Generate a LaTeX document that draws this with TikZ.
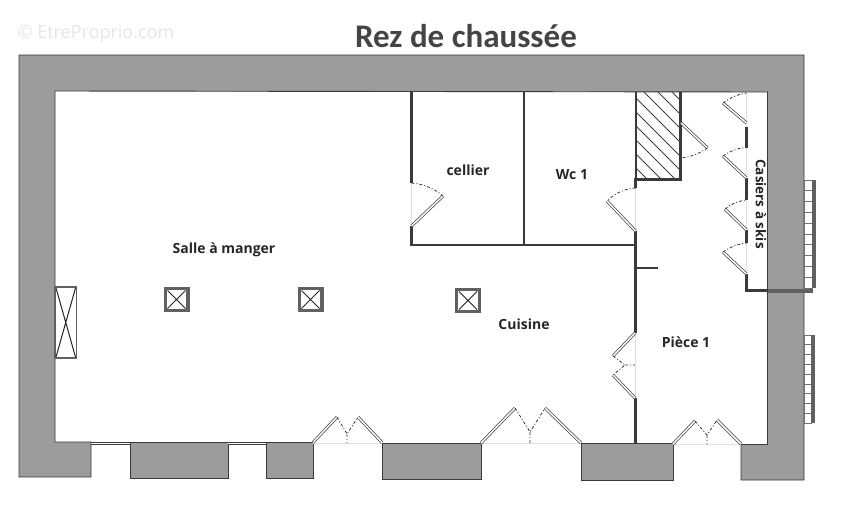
\documentclass[tikz,border=0pt]{standalone}
\usepackage{fontspec}
\setmainfont{Open Sans}
\newfontfamily\titlefont{Carlito}
\definecolor{wallgray}{HTML}{9C9C9C}
\definecolor{inkdark}{HTML}{3A3A3A}
\definecolor{titleink}{HTML}{444444}
\tikzset{
  wallfill/.style={fill=wallgray,draw=inkdark,line width=0.9pt,line join=miter},
  partition/.style={draw=inkdark,line width=2.6pt},
  leaf/.style={draw=inkdark,double=white,double distance=1.5pt,line width=0.7pt},
  swing/.style={draw=black!80,line width=0.8pt,dash pattern=on 3pt off 2pt on 1pt off 2pt},
  sill/.style={draw=black!12,line width=0.6pt},
  roomlabel/.style={font=\bfseries\fontsize{14}{16}\selectfont,text=black!85,inner sep=0pt},
  pillar/.style={draw=black!62,line width=3.4pt,fill=white},
  cross/.style={draw=black!85,line width=1pt},
  rung/.style={draw=black!55,line width=0.8pt,fill=white},
  band/.style={fill=black!62,draw=none}
}
\begin{document}
\begin{tikzpicture}[x=1pt,y=-1pt]
\useasboundingbox (0,0) rectangle (856,506);
% watermark and title
\node[inner sep=0pt,text=black!10,font=\fontsize{18}{20}\selectfont] (mark) at (96,34) {© EtreProprio.com};
\node[inner sep=0pt,text=titleink,font=\titlefont\bfseries\fontsize{33}{35}\selectfont] (title) at (466,36) {Rez de chaussée};
% outer walls
\draw[wallfill] (19,55) -- (804,55) -- (804,480) -- (741,480) -- (741,444.5) -- (767.5,444.5) -- (767.5,92) -- (55,91) -- (55,442) -- (91,442) -- (91,477) -- (19,477) -- cycle;
\draw[wallfill] (130,442) rectangle (228,478);
\draw[wallfill] (266,442.5) rectangle (313,478);
\draw[wallfill] (382,443) rectangle (481,479);
\draw[wallfill] (581,443.5) rectangle (673,480);
% sills of the openings
\foreach \a/\b/\c in {313/382/443,481/581/443.5,673/741/444}{\draw[sill] (\a,\c) -- (\b,\c);}
\draw[sill] (411.5,183) -- (411.5,226);
\draw[sill] (635.5,188) -- (635.5,231);
\draw[sill] (635,333) -- (635,398);
\draw[sill] (746.5,93) -- (746.5,274);
% bottom windows
\foreach \a/\b in {91/130,228/266}{\draw[leaf] (\a,443.5) -- (\b,443.5);}
% radiators
\foreach \i in {0,...,9}{\draw[rung] (804,180+10.8*\i) rectangle (812,180+10.8*\i+10.8);}
\fill[band] (811.5,180) rectangle (815.5,288);
\foreach \i in {0,...,8}{\draw[rung] (804,335+9.8*\i) rectangle (811.5,335+9.8*\i+9.8);}
\fill[band] (811,335) rectangle (815,423);
\fill[band] (768,288.5) rectangle (813,292.5);
% partitions
\draw[partition] (411.5,91) -- (411.5,183);
\draw[partition] (411.5,226) -- (411.5,245) -- (635.5,245);
\draw[partition] (524,91) -- (524,245);
\draw[partition] (635.5,231) -- (635.5,333);
\draw[partition] (635.5,398) -- (635.5,444);
\draw[partition] (635.5,268) -- (658,268);
\draw[partition] (635.5,178) -- (635.5,188);
% chimney block
\begin{scope}
\clip (636,92) rectangle (681,179);
\foreach \k in {-90,-76,...,130}{\draw[draw=black!75,line width=0.9pt] (636+\k,92) -- (636+\k+90,182);}
\end{scope}
\draw[partition] (636,92) -- (636,179.5) -- (680.5,179.5) -- (680.5,92);
% closet partition
\draw[partition] (746.5,127) -- (746.5,148);
\draw[partition] (746.5,178) -- (746.5,200);
\draw[partition] (746.5,230) -- (746.5,243);
\draw[partition] (746.5,274) -- (746.5,290.5) -- (768,290.5);
% door leaves
\draw[leaf] (313,442.5) -- (337,417);
\draw[leaf] (382,442.5) -- (358,417);
\draw[leaf] (481,443) -- (515,408);
\draw[leaf] (581,443) -- (545,408);
\draw[leaf] (673,444) -- (695,421);
\draw[leaf] (741,444) -- (717,420);
\draw[leaf] (635,333) -- (613,356);
\draw[leaf] (635,398) -- (613,375);
\draw[leaf] (411.5,226) -- (443,196);
\draw[leaf] (635.5,231) -- (607,201);
\draw[leaf] (681,123) -- (707.5,148);
\draw[leaf] (746.5,123) -- (723,103);
\draw[leaf] (746.5,178) -- (723,156);
\draw[leaf] (746.5,230) -- (725,209);
\draw[leaf] (746.5,274) -- (723,252);
% swings
\draw[swing] (337,417) -- (347,434) -- (358,417) (347,434) -- (347,443);
\draw[swing] (515,408) -- (530,432) -- (545,408) (530,432) -- (530,443);
\draw[swing] (695,421) -- (707,435) -- (717,420) (707,435) -- (707,444);
\draw[swing] (613,356) -- (625,365) -- (613,375) (625,365) -- (635,365);
\draw[swing] (411.5,183) .. controls (424,184) and (435,189) .. (443,196);
\draw[swing] (635.5,188) .. controls (623,189) and (614,194) .. (607,201);
\draw[swing] (707.5,148) .. controls (700,153) and (691,157) .. (681,158);
\draw[swing] (723,103) .. controls (730,98) and (738,94) .. (746.5,93);
\draw[swing] (723,156) .. controls (730,151) and (738,148) .. (746.5,147.5);
\draw[swing] (725,209) .. controls (731,204) and (738,201) .. (746.5,200);
\draw[swing] (723,252) .. controls (730,247) and (738,244) .. (746.5,243);
% pillars
\foreach \x/\y in {176.5/299.5,310.5/299.5,468/300.5}{
  \draw[pillar] (\x-11.3,\y-11) rectangle (\x+11.3,\y+11);
  \draw[cross] (\x-9,\y-9) -- (\x+9,\y+9) (\x-9,\y+9) -- (\x+9,\y-9);
}
% chimney flue on the left wall
\draw[draw=black!62,line width=1.6pt,fill=white] (55,287) rectangle (76.5,358);
\draw[cross] (56,288) -- (75.5,357) (56,357) -- (75.5,288);
% room labels
\node[roomlabel] (salle) at (224,250) {Salle à manger};
\node[roomlabel] (cellier) at (468,170) {cellier};
\node[roomlabel] (wc) at (572,175) {Wc 1};
\node[roomlabel] (cuisine) at (524,324) {Cuisine};
\node[roomlabel] (piece) at (686,342) {Pièce 1};
\node[roomlabel,font=\bfseries\fontsize{13.5}{15}\selectfont,rotate=-90] (casiers) at (761,204) {Casiers à skis};
\end{tikzpicture}
\end{document}
